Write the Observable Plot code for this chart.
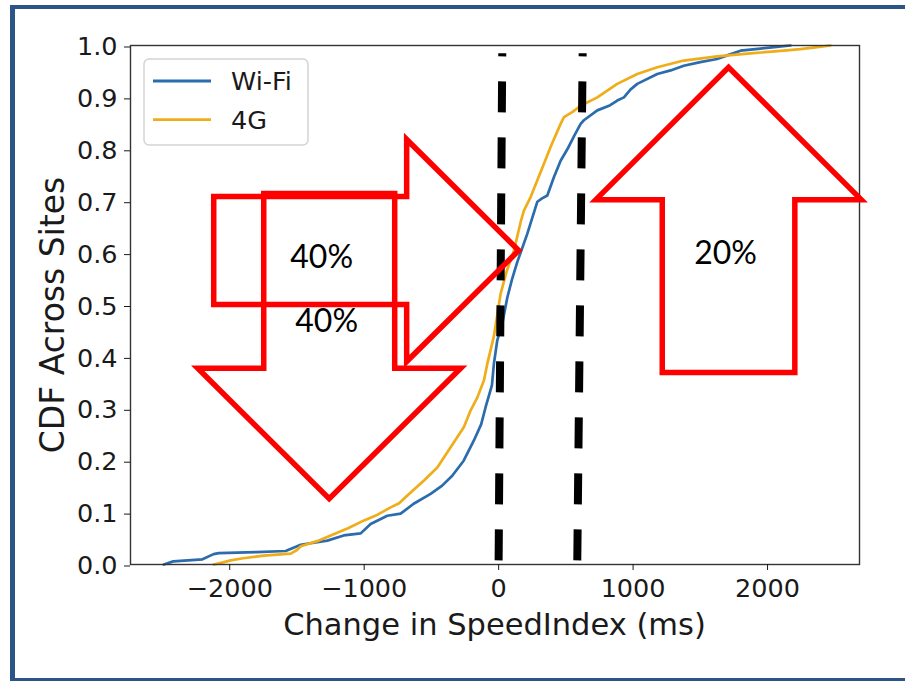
<!DOCTYPE html>
<html>
<head>
<meta charset="utf-8">
<script src="https://cdn.jsdelivr.net/npm/d3@7"></script>
<script src="https://cdn.jsdelivr.net/npm/@observablehq/plot@0.6"></script>
<style>
  html, body { margin: 0; padding: 0; background: #fff; overflow: hidden; }
  #wrap { position: relative; width: 905px; height: 682px; overflow: hidden; font-family: "DejaVu Sans", sans-serif; background: #fff; }
  #chart { position: absolute; left: 0; top: 0; }
  #legend { position: absolute; left: 143px; top: 58px; }
  #edge { position: absolute; left: 0; top: 0; pointer-events: none; }
</style>
</head>
<body>
<div id="wrap">
  <div id="chart"></div>
  <div id="legend"></div>
  <svg id="edge" width="905" height="682">
    <line x1="12.5" y1="5" x2="12.5" y2="681" stroke="#2d5486" stroke-width="5"/>
    <line x1="10" y1="7" x2="905" y2="7" stroke="#2d5486" stroke-width="4"/>
    <line x1="10" y1="679.5" x2="905" y2="679.5" stroke="#2d5486" stroke-width="3"/>
  </svg>
</div>
<script>
// Empirical CDF of the change in SpeedIndex (ms), per access network
const wifiX = [-2490,-2420,-2203,-2120,-2082,-1800,-1584,-1472,-1274,-1152,-1026,-952,-828,-729,-632,-506,-420,-345,-260,-184,-130,-97,-50,-35,-10,27,65,100,139,213,288,320,362,411,461,511,560,610,634,734,830,882,932,980,1031,1180,1279,1377,1500,1625,1700,1799,1948,2050,2171];
const wifiY = [0,0.006,0.010,0.020,0.022,0.024,0.026,0.038,0.046,0.056,0.060,0.078,0.094,0.098,0.117,0.136,0.152,0.171,0.200,0.239,0.270,0.303,0.345,0.387,0.432,0.464,0.515,0.550,0.583,0.637,0.699,0.705,0.711,0.746,0.778,0.800,0.825,0.849,0.856,0.875,0.885,0.894,0.900,0.915,0.926,0.945,0.952,0.961,0.968,0.974,0.981,0.990,0.994,0.997,1.0];

const lteX = [-2119,-2050,-1993,-1900,-1747,-1546,-1500,-1472,-1350,-1249,-1120,-1001,-900,-803,-740,-679,-555,-456,-357,-258,-208,-158,-109,-84,-35,15,60,114,164,188,238,287,337,387,461,486,550,610,734,882,1031,1180,1377,1625,1874,2121,2245,2370,2468];
const lteY = [0,0.004,0.008,0.012,0.017,0.021,0.028,0.035,0.045,0.056,0.070,0.085,0.096,0.110,0.118,0.133,0.162,0.187,0.226,0.265,0.297,0.322,0.355,0.387,0.440,0.522,0.565,0.605,0.660,0.682,0.708,0.740,0.772,0.805,0.849,0.862,0.872,0.884,0.900,0.926,0.945,0.958,0.971,0.979,0.985,0.990,0.993,0.997,1.0];

const seriesNames = ["Wi-Fi", "4G"];
const seriesColors = ["#2b6cad", "#f0ad1a"];

// Axis ticks
const xTicks = [-2000, -1000, 0, 1000, 2000];
const yTicks = [0, 0.1, 0.2, 0.3, 0.4, 0.5, 0.6, 0.7, 0.8, 0.9, 1.0];
const xLabel = "Change in SpeedIndex (ms)";
const yLabel = "CDF Across Sites";

// Threshold cuts (ms): dashed guides, bottom and top ends
const cutBottomX = [0, 585];
const cutTopX = [27, 625];
const cutBottomY = 0.008;
const cutTopY = 0.985;

// Block-arrow annotations (data units): share of sites per region
const noteText = ["40%", "40%", "20%"];
const noteX = [-1316, -1279, 1688];
const noteY = [0.592, 0.468, 0.599];

// right arrow: tail, head base, tip (ms); centre, body and head half-heights (CDF)
const rightArrow = {tail: -2119, base: -684, tip: 149, mid: 0.605, body: 0.104, head: 0.214};
// down arrow: centre, body and head half-widths (ms); top, head base, tip (CDF)
const downArrow = {mid: -1260, body: 487, head: 978, tail: 0.715, base: 0.378, tip: 0.127};
// up arrow
const upArrow = {mid: 1710, body: 493, head: 987, tail: 0.370, base: 0.703, tip: 0.958};

const rows = [
  ...wifiX.map((x, i) => ({series: "Wi-Fi", x, y: wifiY[i]})),
  ...lteX.map((x, i) => ({series: "4G", x, y: lteY[i]}))
];

const cuts = cutBottomX.map((x, i) => ({x1: x, x2: cutTopX[i], y1: cutBottomY, y2: cutTopY}));

function horizontalArrow(id, a) {
  return [
    [a.tail, a.mid + a.body], [a.base, a.mid + a.body], [a.base, a.mid + a.head],
    [a.tip, a.mid], [a.base, a.mid - a.head], [a.base, a.mid - a.body], [a.tail, a.mid - a.body]
  ].map(([x, y]) => ({id, x, y}));
}
function verticalArrow(id, a) {
  return [
    [a.mid - a.body, a.tail], [a.mid + a.body, a.tail], [a.mid + a.body, a.base],
    [a.mid + a.head, a.base], [a.mid, a.tip], [a.mid - a.head, a.base], [a.mid - a.body, a.base]
  ].map(([x, y]) => ({id, x, y}));
}
const arrowPts = [
  ...horizontalArrow("right", rightArrow),
  ...verticalArrow("down", downArrow),
  ...verticalArrow("up", upArrow)
];
const notes = noteText.map((t, i) => ({text: t, x: noteX[i], y: noteY[i]}));

const chart = Plot.plot({
  width: 905,
  height: 682,
  marginLeft: 130,
  marginRight: 46,
  marginTop: 45,
  marginBottom: 118,
  style: {fontFamily: "DejaVu Sans", fontSize: "25.5px", background: "transparent", overflow: "visible", color: "#1a1a1a"},
  x: {domain: [-2738, 2684]},
  y: {domain: [0, 1]},
  color: {domain: seriesNames, range: seriesColors},
  marks: [
    Plot.line(rows, {x: "x", y: "y", z: "series", stroke: "series", strokeWidth: 2.7, curve: "linear"}),
    Plot.frame({stroke: "#333", strokeWidth: 1.4}),
    Plot.axisX({ticks: xTicks, tickFormat: d3.format("d"), tickSize: 6, tickPadding: 8, fontSize: 25.5, label: null, color: "#1a1a1a"}),
    Plot.axisY({ticks: yTicks, tickFormat: d3.format(".1f"), tickSize: 6, tickPadding: 7, fontSize: 25.5, label: null, dy: 1.5, color: "#1a1a1a"}),
    Plot.text([xLabel], {frameAnchor: "bottom", lineAnchor: "bottom", dy: 70, dx: -0.5, fontSize: 30.5, fill: "#1a1a1a"}),
    Plot.text([yLabel], {frameAnchor: "left", textAnchor: "middle", rotate: -90, dx: -77, dy: 10, fontSize: 33, fill: "#1a1a1a"}),
    Plot.link(cuts, {x1: "x1", y1: "y1", x2: "x2", y2: "y2", stroke: "black", strokeWidth: 8, strokeDasharray: "31,25", strokeLinecap: "butt"}),
    Plot.line(arrowPts, {x: "x", y: "y", z: "id", stroke: "#ff0000", strokeWidth: 5.5, strokeLinejoin: "miter", strokeMiterlimit: 10, curve: "linear-closed"}),
    Plot.text(notes, {x: "x", y: "y", text: "text", fontFamily: "Lato", fontSize: 32, fill: "#000"})
  ]
});
document.getElementById("chart").appendChild(chart);

// Legend box in the upper-left corner of the axes
const leg = d3.select("#legend").append("svg").attr("width", 168).attr("height", 90)
  .style("font-family", "DejaVu Sans");
leg.append("rect").attr("x", 1).attr("y", 1).attr("width", 164).attr("height", 86).attr("rx", 5)
  .attr("fill", "white").attr("fill-opacity", 0.85).attr("stroke", "#d4d4d4").attr("stroke-width", 1.5);
seriesNames.forEach((name, i) => {
  const cy = 23 + i * 38.6;
  leg.append("line").attr("x1", 10).attr("x2", 68).attr("y1", cy).attr("y2", cy)
    .attr("stroke", seriesColors[i]).attr("stroke-width", 2.8);
  leg.append("text").attr("x", 88).attr("y", cy + 9.3).attr("font-size", 25.5).attr("fill", "#1a1a1a").text(name);
});
</script>
</body>
</html>
